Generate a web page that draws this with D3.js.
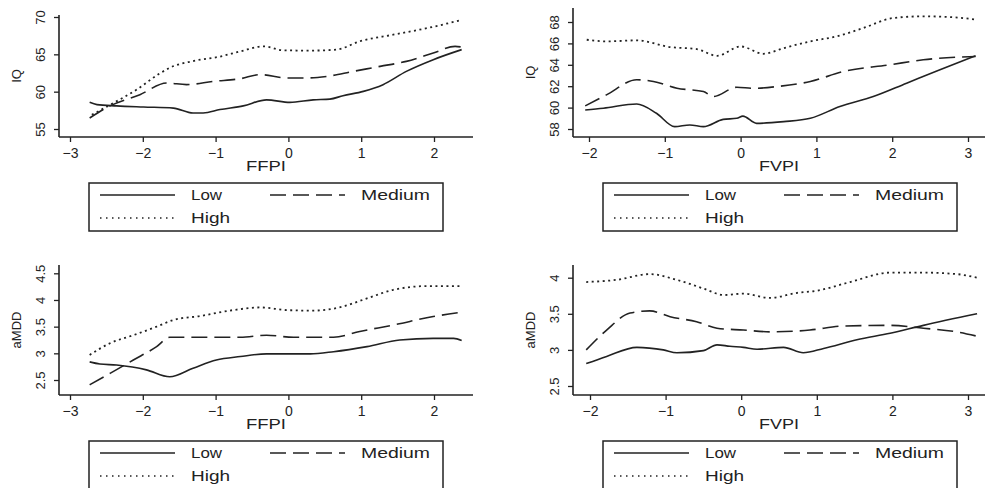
<!DOCTYPE html>
<html>
<head>
<meta charset="utf-8">
<script src="https://cdn.jsdelivr.net/npm/d3@7"></script>
<style>
  body { margin: 0; background: #fff; }
  text { font-family: "Liberation Sans", Arial, sans-serif; fill: #222; }
</style>
</head>
<body>
<script>
// series names
var groups = ["Low", "Medium", "High"];
var dashes = {Low: null, Medium: "16,7", High: "2,3.5"};

// IQ vs FFPI  [x, y]
var iqFfpiLow = [[-2.73,58.57],[-2.63,58.26],[-2.36,58.1],[-1.99,57.95],[-1.58,57.8],[-1.31,57.14],[-1.17,57.14],[-0.94,57.6],[-0.62,58.1],[-0.30,58.9],[0.02,58.57],[0.34,58.9],[0.57,59.0],[0.75,59.46],[1.03,60.04],[1.30,60.94],[1.62,62.72],[1.99,64.29],[2.38,65.63]];
var iqFfpiMedium = [[-2.73,56.47],[-2.45,58.1],[-2.04,59.6],[-1.67,61.16],[-1.40,60.94],[-1.03,61.38],[-0.66,61.74],[-0.39,62.28],[-0.02,61.83],[0.25,61.83],[0.53,62.05],[0.89,62.72],[1.26,63.39],[1.62,64.06],[1.99,65.18],[2.29,66.07],[2.38,65.98]];
var iqFfpiHigh = [[-2.70,56.9],[-2.40,58.5],[-2.08,60.3],[-1.79,62.3],[-1.63,63.2],[-1.31,64.1],[-0.94,64.7],[-0.66,65.4],[-0.34,66.07],[-0.07,65.54],[0.30,65.5],[0.66,65.63],[0.98,66.74],[1.44,67.63],[1.90,68.5],[2.36,69.55]];

// IQ vs FVPI
var iqFvpiLow = [[-2.05,59.78],[-1.81,59.94],[-1.37,60.34],[-1.11,59.47],[-0.87,58.22],[-0.67,58.38],[-0.49,58.22],[-0.23,58.9],[-0.05,59.0],[0.03,59.2],[0.21,58.53],[0.57,58.69],[0.92,59.0],[1.31,60.1],[1.75,61.03],[2.19,62.28],[2.63,63.53],[3.10,64.84]];
var iqFvpiMedium = [[-2.05,60.16],[-1.77,61.19],[-1.37,62.6],[-1.15,62.44],[-0.84,61.81],[-0.49,61.5],[-0.36,61.03],[-0.05,61.9],[0.17,61.8],[0.48,61.97],[0.92,62.44],[1.36,63.38],[1.97,64.0],[2.41,64.47],[3.10,64.78]];
var iqFvpiHigh = [[-2.03,66.34],[-1.77,66.19],[-1.37,66.28],[-0.93,65.66],[-0.58,65.47],[-0.31,64.84],[0.0,65.72],[0.30,65.03],[0.57,65.56],[0.92,66.19],[1.27,66.66],[1.62,67.44],[2.02,68.38],[2.41,68.53],[2.81,68.44],[3.12,68.22]];

// aMDD vs FFPI
var mddFfpiLow = [[-2.73,2.84],[-2.59,2.80],[-2.36,2.78],[-1.95,2.69],[-1.63,2.56],[-1.31,2.72],[-0.99,2.875],[-0.66,2.94],[-0.30,2.99],[0.30,2.99],[0.62,3.03],[1.08,3.125],[1.53,3.25],[1.99,3.28],[2.27,3.28],[2.38,3.24]];
var mddFfpiMedium = [[-2.73,2.41],[-2.45,2.625],[-2.13,2.875],[-1.81,3.125],[-1.63,3.30],[-1.21,3.30],[-0.66,3.30],[-0.30,3.34],[0.07,3.30],[0.62,3.30],[0.98,3.41],[1.44,3.53],[1.99,3.69],[2.38,3.77]];
var mddFfpiHigh = [[-2.73,2.97],[-2.45,3.19],[-2.13,3.34],[-1.81,3.50],[-1.58,3.625],[-1.21,3.70],[-0.76,3.81],[-0.39,3.86],[-0.02,3.81],[0.33,3.80],[0.70,3.86],[1.08,4.03],[1.44,4.19],[1.90,4.26],[2.38,4.26]];

// aMDD vs FVPI
var mddFvpiLow = [[-2.05,2.81],[-1.78,2.91],[-1.38,3.035],[-1.03,3.0],[-0.85,2.96],[-0.50,2.99],[-0.32,3.07],[-0.15,3.05],[0.03,3.035],[0.21,3.01],[0.56,3.035],[0.82,2.96],[1.09,3.02],[1.53,3.14],[1.97,3.23],[2.41,3.34],[3.12,3.50]];
var mddFvpiMedium = [[-2.05,3.0],[-1.78,3.275],[-1.47,3.51],[-1.21,3.54],[-0.94,3.46],[-0.59,3.39],[-0.32,3.30],[0.03,3.275],[0.38,3.25],[0.91,3.275],[1.34,3.33],[1.97,3.34],[2.41,3.30],[2.85,3.25],[3.12,3.19]];
var mddFvpiHigh = [[-2.05,3.94],[-1.65,3.97],[-1.21,4.05],[-0.85,3.97],[-0.50,3.85],[-0.23,3.76],[0.03,3.78],[0.38,3.72],[0.74,3.79],[1.0,3.82],[1.44,3.94],[1.97,4.07],[2.41,4.07],[2.85,4.05],[3.12,4.0]];

// tick labels
var ffpiTicks = [-3, -2, -1, 0, 1, 2];
var fvpiTicks = [-2, -1, 0, 1, 2, 3];
var iqFfpiTicks = [55, 60, 65, 70];
var iqFvpiTicks = [58, 60, 62, 64, 66, 68];
var mddFfpiTicks = [2.5, 3, 3.5, 4, 4.5];
var mddFvpiTicks = [2.5, 3, 3.5, 4];

var W = 985, H = 488;
var svg = d3.select("body").append("svg")
    .attr("width", W)
    .attr("height", H);

var panels = [
    {series: [iqFfpiLow, iqFfpiMedium, iqFfpiHigh], xTicks: ffpiTicks, yTicks: iqFfpiTicks,
     xTitle: "FFPI", yTitle: "IQ", xd: [-3, 2], xr: [70, 434], yd: [55, 70], yr: [129, 17],
     left: 59, right: 473, top: 15, bottom: 137, legend: [89, 183]},
    {series: [iqFvpiLow, iqFvpiMedium, iqFvpiHigh], xTicks: fvpiTicks, yTicks: iqFvpiTicks,
     xTitle: "FVPI", yTitle: "IQ", xd: [-2, 3], xr: [589, 968], yd: [58, 68], yr: [129, 22],
     left: 573, right: 985, top: 8, bottom: 137, legend: [603, 183]},
    {series: [mddFfpiLow, mddFfpiMedium, mddFfpiHigh], xTicks: ffpiTicks, yTicks: mddFfpiTicks,
     xTitle: "FFPI", yTitle: "aMDD", xd: [-3, 2], xr: [70, 434], yd: [2.5, 4.5], yr: [380, 273.3],
     left: 59, right: 473, top: 265, bottom: 395, legend: [89, 441]},
    {series: [mddFvpiLow, mddFvpiMedium, mddFvpiHigh], xTicks: fvpiTicks, yTicks: mddFvpiTicks,
     xTitle: "FVPI", yTitle: "aMDD", xd: [-2, 3], xr: [590, 968], yd: [2.5, 4], yr: [386, 277.7],
     left: 573, right: 985, top: 265, bottom: 395, legend: [603, 441]}
];

panels.forEach(function(p) {
    var x = d3.scaleLinear().domain(p.xd).range(p.xr);
    var y = d3.scaleLinear().domain(p.yd).range(p.yr);
    var g = svg.append("g");

    // axes
    var xAxis = g.append("g")
        .attr("transform", "translate(0," + p.bottom + ")")
        .call(d3.axisBottom(x).tickValues(p.xTicks).tickSize(5).tickPadding(6).tickFormat(d3.format("d")));
    xAxis.select(".domain").remove();
    xAxis.selectAll("text").attr("font-size", 14).attr("fill", "#222");
    xAxis.selectAll("line").attr("stroke", "#222").attr("stroke-width", 1.3);

    var yAxis = g.append("g")
        .attr("transform", "translate(" + p.left + ",0)")
        .call(d3.axisLeft(y).tickValues(p.yTicks).tickSize(5).tickFormat(function(d) { return String(d); }));
    yAxis.select(".domain").remove();
    yAxis.selectAll("line").attr("stroke", "#222").attr("stroke-width", 1.3);
    yAxis.selectAll("text")
        .attr("font-size", 13)
        .attr("fill", "#222")
        .attr("text-anchor", "middle")
        .attr("x", null)
        .attr("transform", "translate(-19,0) rotate(-90)")
        .attr("dy", "0.35em");

    g.append("line")
        .attr("x1", p.left).attr("x2", p.right)
        .attr("y1", p.bottom).attr("y2", p.bottom)
        .attr("stroke", "#222").attr("stroke-width", 1.6);
    g.append("line")
        .attr("x1", p.left).attr("x2", p.left)
        .attr("y1", p.top).attr("y2", p.bottom)
        .attr("stroke", "#222").attr("stroke-width", 1.6);

    // titles
    g.append("text")
        .attr("x", (p.left + p.right) / 2)
        .attr("y", p.bottom + 34)
        .attr("text-anchor", "middle")
        .attr("font-size", 14)
        .attr("textLength", 40)
        .attr("lengthAdjust", "spacingAndGlyphs")
        .text(p.xTitle);
    g.append("text")
        .attr("transform", "translate(" + (p.left - 43) + "," + ((p.top + p.bottom) / 2) + ") rotate(-90)")
        .attr("text-anchor", "middle")
        .attr("dy", "0.35em")
        .attr("font-size", 13)
        .text(p.yTitle);

    // curves
    var line = d3.line()
        .x(function(d) { return x(d[0]); })
        .y(function(d) { return y(d[1]); })
        .curve(d3.curveMonotoneX);
    p.series.forEach(function(s, i) {
        g.append("path")
            .datum(s)
            .attr("fill", "none")
            .attr("stroke", "#222")
            .attr("stroke-width", groups[i] === "High" ? 1.8 : 1.6)
            .attr("stroke-dasharray", dashes[groups[i]])
            .attr("d", line);
    });

    // legend
    var lg = g.append("g").attr("transform", "translate(" + p.legend[0] + "," + p.legend[1] + ")");
    lg.append("rect")
        .attr("width", 354).attr("height", 48)
        .attr("fill", "none").attr("stroke", "#222").attr("stroke-width", 1.5);
    var items = [
        {name: "Low", x: 11, y: 12},
        {name: "Medium", x: 181, y: 12},
        {name: "High", x: 11, y: 35}
    ];
    items.forEach(function(it) {
        lg.append("line")
            .attr("x1", it.x).attr("x2", it.x + 75)
            .attr("y1", it.y).attr("y2", it.y)
            .attr("stroke", "#222")
            .attr("stroke-width", it.name === "High" ? 1.6 : 1.5)
            .attr("stroke-dasharray", it.name === "High" ? "1.5,4.5" : dashes[it.name]);
        lg.append("text")
            .attr("x", it.x + 91)
            .attr("y", it.y)
            .attr("dy", "0.35em")
            .attr("font-size", 14)
            .attr("textLength", {Low: 31, Medium: 69, High: 39}[it.name])
            .attr("lengthAdjust", "spacingAndGlyphs")
            .text(it.name);
    });
});
</script>
</body>
</html>
